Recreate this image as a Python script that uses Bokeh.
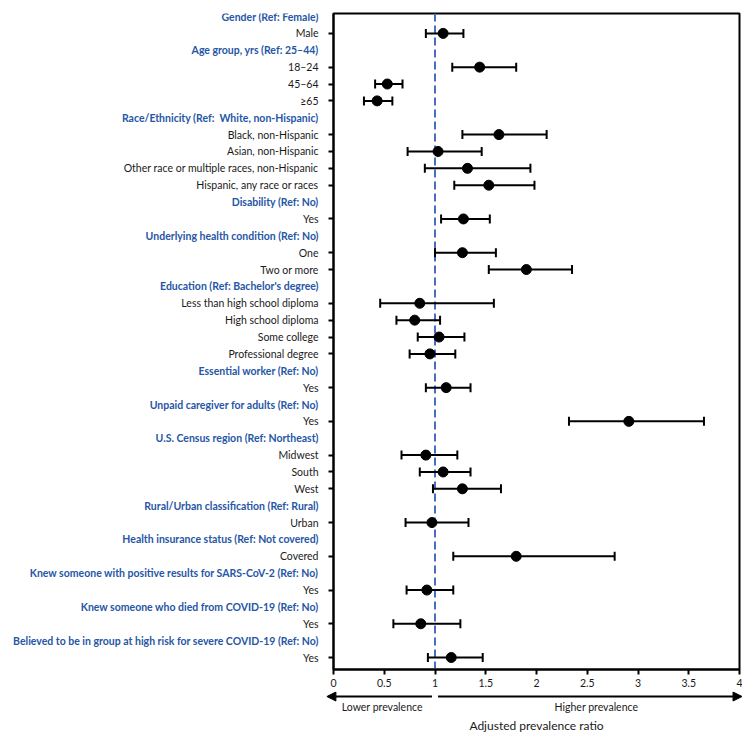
from bokeh.plotting import figure
from bokeh.layouts import column, row
from bokeh.models import (Range1d, FixedTicker, Span, Whisker, TeeHead, ColumnDataSource,
                          Arrow, NormalHead)
from bokeh.core.properties import value
from bokeh.embed import file_html
from bokeh.resources import INLINE

headers = [
    "Gender (Ref: Female)",
    "Age group, yrs (Ref: 25\u201344)",
    "Race/Ethnicity (Ref:\u00a0 White, non-Hispanic)",
    "Disability (Ref: No)",
    "Underlying health condition (Ref: No)",
    "Education (Ref: Bachelor's degree)",
    "Essential worker (Ref: No)",
    "Unpaid caregiver for adults (Ref: No)",
    "U.S. Census region (Ref: Northeast)",
    "Rural/Urban classification (Ref: Rural)",
    "Health insurance status (Ref: Not covered)",
    "Knew someone with positive results for SARS-CoV-2 (Ref: No)",
    "Knew someone who died from COVID-19 (Ref: No)",
    "Believed to be in group at high risk for severe COVID-19 (Ref: No)",
]
group_sizes = [1, 3, 4, 1, 2, 4, 1, 1, 3, 1, 1, 1, 1, 1]
categories = [
    "Male",
    "18\u201324", "45\u201364", "\u226565",
    "Black, non-Hispanic", "Asian, non-Hispanic",
    "Other race or multiple races, non-Hispanic", "Hispanic, any race or races",
    "Yes",
    "One", "Two or more",
    "Less than high school diploma", "High school diploma", "Some college", "Professional degree",
    "Yes",
    "Yes",
    "Midwest", "South", "West",
    "Urban",
    "Covered",
    "Yes",
    "Yes",
    "Yes",
]
estimate = [1.08, 1.44, 0.53, 0.43, 1.63, 1.03, 1.32, 1.53, 1.28, 1.27, 1.90,
            0.85, 0.80, 1.04, 0.95, 1.11, 2.91, 0.91, 1.08, 1.27, 0.97, 1.80,
            0.92, 0.86, 1.16]
lower = [0.91, 1.17, 0.41, 0.30, 1.27, 0.73, 0.90, 1.19, 1.06, 1.00, 1.53,
         0.46, 0.62, 0.83, 0.75, 0.91, 2.32, 0.67, 0.85, 0.98, 0.71, 1.18,
         0.72, 0.59, 0.93]
upper = [1.28, 1.80, 0.68, 0.58, 2.10, 1.46, 1.94, 1.98, 1.54, 1.60, 2.35,
         1.58, 1.05, 1.29, 1.20, 1.35, 3.65, 1.22, 1.35, 1.65, 1.33, 2.77,
         1.18, 1.25, 1.47]
x_ticks = [0, 0.5, 1, 1.5, 2, 2.5, 3, 3.5, 4]
x_min, x_max = 0, 4
reference_value = 1
axis_title = "Adjusted prevalence ratio"
lower_text = "Lower prevalence"
higher_text = "Higher prevalence"

BLUE = "#2656a6"
TXT = "#1a1a1a"
FONT = "Lato"
FS = "10.5px"

# row positions computed from the group structure
header_rows, cat_rows = [], []
r = 1
for n in group_sizes:
    header_rows.append(r)
    r += 1
    for _ in range(n):
        cat_rows.append(r)
        r += 1
n_rows = r - 1

# layout constants (pixels)
LW = 325            # label panel width
MW = 417            # main panel width
MT, MB = 13, 22     # main frame top / bottom borders
MH = 669 + MB       # main panel height
ML, MR = 8, 3
BH = 42             # bottom annotation strip height

y_range = Range1d(n_rows + 0.71, 0.82)

# ---------------- label panel ----------------
L = figure(width=LW, height=MH, output_backend="svg", toolbar_location=None,
           x_range=Range1d(0, 1), y_range=y_range,
           x_axis_location=None, y_axis_location=None,
           min_border_left=0, min_border_right=0, min_border_top=MT, min_border_bottom=MB)
L.grid.visible = False
L.outline_line_color = None
hsrc = ColumnDataSource(dict(x=[1] * len(headers), y=header_rows, text=headers))
L.text(x="x", y="y", text="text", source=hsrc, x_offset=-7,
       text_align="right", text_baseline="middle", text_color=BLUE,
       text_font=value(FONT), text_font_style="bold", text_font_size=value(FS))
csrc = ColumnDataSource(dict(x=[1] * len(categories), y=cat_rows, text=categories))
L.text(x="x", y="y", text="text", source=csrc, x_offset=-7,
       text_align="right", text_baseline="middle", text_color=TXT,
       text_font=value(FONT), text_font_size=value(FS))

# ---------------- main panel ----------------
M = figure(width=MW, height=MH, output_backend="svg", toolbar_location=None,
           x_range=Range1d(x_min, x_max), y_range=y_range,
           min_border_left=ML, min_border_right=MR, min_border_top=MT, min_border_bottom=MB)
M.grid.visible = False
M.outline_line_color = "black"
M.outline_line_width = 2
M.outline_line_alpha = 1

M.yaxis.ticker = FixedTicker(ticks=cat_rows)
M.yaxis.major_label_overrides = {row_: "" for row_ in cat_rows}
M.yaxis.major_label_text_font_size = "0px"
M.yaxis.major_label_standoff = 0
M.yaxis.minor_tick_line_color = None
M.yaxis.major_tick_in = 0
M.yaxis.major_tick_out = 5
M.yaxis.major_tick_line_width = 2
M.yaxis.axis_line_width = 2

M.xaxis.ticker = FixedTicker(ticks=x_ticks)
M.xaxis.major_label_overrides = {t: f"{t:g}" for t in x_ticks}
M.xaxis.minor_tick_line_color = None
M.xaxis.major_tick_in = 0
M.xaxis.major_tick_out = 5
M.xaxis.major_tick_line_width = 2
M.xaxis.axis_line_width = 2
M.xaxis.major_label_standoff = 4
M.xaxis.major_label_text_font = FONT
M.xaxis.major_label_text_font_size = FS
M.xaxis.major_label_text_color = TXT

M.add_layout(Span(location=reference_value, dimension="height", line_color="#4a6cc4",
                  line_dash="8 4", line_width=2, level="underlay"))

src = ColumnDataSource(dict(y=cat_rows, est=estimate, lo=lower, hi=upper))
M.add_layout(Whisker(source=src, base="y", lower="lo", upper="hi", dimension="width",
                     line_width=2, line_color="black",
                     lower_head=TeeHead(size=9, line_width=2, line_color="black"),
                     upper_head=TeeHead(size=9, line_width=2, line_color="black")))
M.scatter("est", "y", source=src, size=10, color="black")

# ---------------- bottom strip: arrows and axis title ----------------
px_unit = (MW - ML - MR) / (x_max - x_min)
B = figure(width=LW + MW, height=BH, output_backend="svg", toolbar_location=None,
           x_range=Range1d(x_min - ML / px_unit, x_max + MR / px_unit),
           y_range=Range1d(BH, 0),
           x_axis_location=None, y_axis_location=None,
           min_border_left=LW, min_border_right=0, min_border_top=0, min_border_bottom=0)
B.grid.visible = False
B.outline_line_color = None
ya, yt, yl = 5, 15, 34
B.add_layout(Arrow(x_start=reference_value - 0.03, x_end=x_min - 0.065, y_start=ya, y_end=ya,
                   line_width=2, line_color="black",
                   end=NormalHead(size=9, fill_color="black", line_color="black")))
B.add_layout(Arrow(x_start=reference_value + 0.03, x_end=x_max + 0.025, y_start=ya, y_end=ya,
                   line_width=2, line_color="black",
                   end=NormalHead(size=9, fill_color="black", line_color="black")))
B.text(x=[(x_min + reference_value) / 2 - 0.02], y=[yt], text=[lower_text],
       text_align="center", text_baseline="middle", text_color=TXT,
       text_font=value(FONT), text_font_size=value(FS))
B.text(x=[(reference_value + x_max) / 2 + 0.09], y=[yt], text=[higher_text],
       text_align="center", text_baseline="middle", text_color=TXT,
       text_font=value(FONT), text_font_size=value(FS))
B.text(x=[(x_min + x_max) / 2], y=[yl], text=[axis_title],
       text_align="center", text_baseline="middle", text_color=TXT,
       text_font=value(FONT), text_font_size=value("12px"))

layout = column(row(L, M), B)
open("out.html", "w").write(file_html(layout, INLINE))
